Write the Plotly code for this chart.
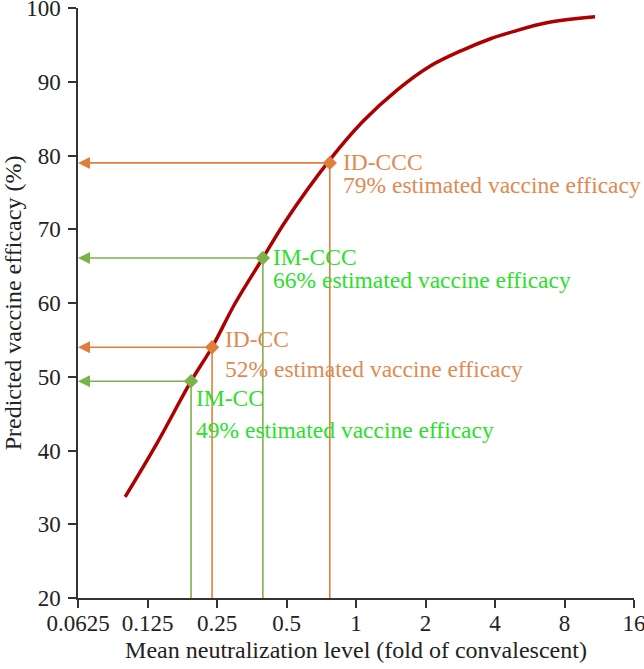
import math
import plotly.graph_objects as go

# Curve
curve_x = [0.1, 0.1375, 0.193, 0.238, 0.3, 0.395, 0.5, 0.77, 1.07, 1.51, 2.09, 2.9, 3.8, 4.79, 6.7, 10.85]
curve_y = [33.7, 41.0, 49.4, 54.0, 60.0, 66.1, 71.3, 79.4, 84.6, 88.9, 92.1, 94.3, 95.8, 96.8, 98.0, 98.8]

# Highlighted regimens
groups = ["IM-CC", "ID-CC", "IM-CCC", "ID-CCC"]
group_x = [0.193, 0.238, 0.395, 0.77]
group_y = [49.4, 54.0, 66.1, 79.0]
group_pct = ["49%", "52%", "66%", "79%"]

tick_vals = [0.0625, 0.125, 0.25, 0.5, 1, 2, 4, 8, 16]
tick_text = ["0.0625", "0.125", "0.25", "0.5", "1", "2", "4", "8", "16"]

line_col = {"IM-CC": "#7cb24c", "ID-CC": "#e07e3c", "IM-CCC": "#7cb24c", "ID-CCC": "#e07e3c"}
text_col = {"IM-CC": "#2ae02a", "ID-CC": "#e08a52", "IM-CCC": "#2ae02a", "ID-CCC": "#e08a52"}
# label placement (style): xshift px, line1 y, line2 y
label_pos = {
    "IM-CC": (3, 47.1, 42.8),
    "ID-CC": (11, 55.1, 51.1),
    "IM-CCC": (8, 66.2, 63.1),
    "ID-CCC": (11, 79.1, 76.0),
}

FONT = "Liberation Serif"
fig = go.Figure()

# vertical drop lines
for g, x, y in zip(groups, group_x, group_y):
    fig.add_trace(go.Scatter(x=[x, x], y=[20, y], mode="lines",
                             line=dict(color=line_col[g], width=1.6),
                             showlegend=False, hoverinfo="skip"))

fig.add_trace(go.Scatter(x=curve_x, y=curve_y, mode="lines",
                         line=dict(color="#ad0000", width=3.5, shape="spline"),
                         showlegend=False))

for g, x, y in zip(groups, group_x, group_y):
    fig.add_trace(go.Scatter(x=[x], y=[y], mode="markers",
                             marker=dict(symbol="diamond", size=11, color=line_col[g]),
                             showlegend=False))

xmin = 0.0625
annotations = []
for g, x, y, p in zip(groups, group_x, group_y, group_pct):
    annotations.append(dict(x=math.log10(xmin), y=y, ax=math.log10(x), ay=y,
                            xref="x", yref="y", axref="x", ayref="y",
                            showarrow=True, arrowhead=2, arrowsize=1.5, arrowwidth=1.6,
                            arrowcolor=line_col[g], text="", standoff=0))
    xs, y1, y2 = label_pos[g]
    annotations.append(dict(x=math.log10(x), y=y1, xref="x", yref="y", text=g,
                            showarrow=False, xanchor="left", yanchor="middle", xshift=xs,
                            font=dict(family=FONT, size=23.5, color=text_col[g])))
    annotations.append(dict(x=math.log10(x), y=y2, xref="x", yref="y",
                            text=p + " estimated vaccine efficacy",
                            showarrow=False, xanchor="left", yanchor="middle", xshift=xs,
                            font=dict(family=FONT, size=23.5, color=text_col[g])))

axis_common = dict(showline=True, linecolor="#333", linewidth=1.5,
                   ticks="outside", ticklen=8, tickwidth=1.5, tickcolor="#333",
                   showgrid=False, zeroline=False, automargin=False,
                   ticklabeloverflow="allow",
                   tickfont=dict(family=FONT, size=23, color="#222"))

fig.update_layout(
    width=644, height=669,
    margin=dict(l=78, r=10, t=8, b=71),
    plot_bgcolor="white", paper_bgcolor="white",
    font=dict(family=FONT, size=20, color="#222"),
    annotations=annotations,
    xaxis=dict(type="log", range=[math.log10(0.0625), math.log10(16)],
               tickvals=tick_vals, ticktext=tick_text, ticklabelstandoff=-4,
               title=dict(text="Mean neutralization level (fold of convalescent)",
                          standoff=6, font=dict(family=FONT, size=24, color="#222")),
               **axis_common),
    yaxis=dict(range=[20, 100], tickvals=[20, 30, 40, 50, 60, 70, 80, 90, 100],
               ticklabelstandoff=3,
               title=dict(text="Predicted vaccine efficacy (%)", standoff=8,
                          font=dict(family=FONT, size=24, color="#222")),
               **axis_common),
)

fig.write_html("out.html", config={"displayModeBar": False},
               post_script="document.body.style.margin='0';document.body.style.padding='0';")
